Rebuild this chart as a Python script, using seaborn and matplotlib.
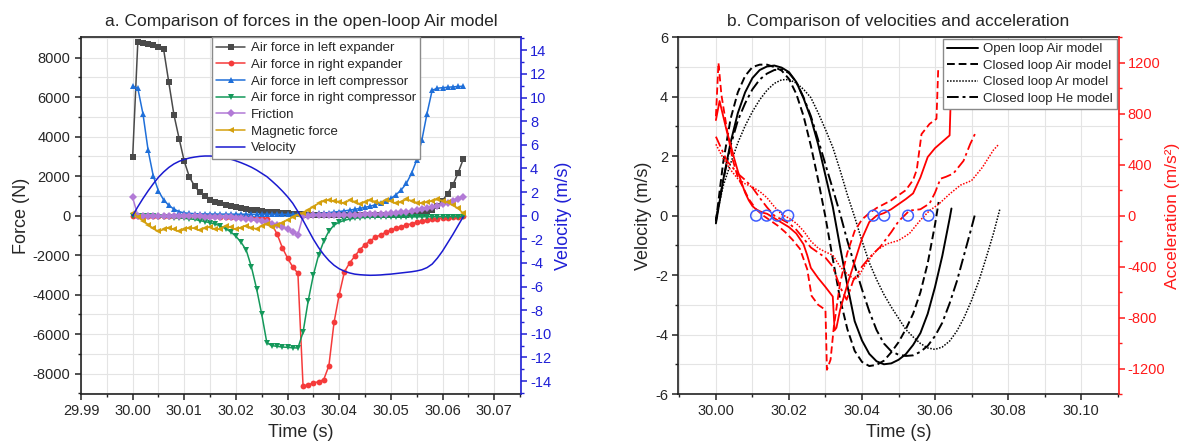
import numpy as np
import pandas as pd
import seaborn as sns
import matplotlib.pyplot as plt
from matplotlib.ticker import MultipleLocator, FormatStrFormatter

# ---------------- panel a: forces, open-loop Air model (1 ms samples from 30.000 s)
time_a = np.round(30.0 + 0.001 * np.arange(65), 3)

left_expander = [2950, 8780, 8740, 8680, 8620, 8540, 8420, 6750, 5100, 3900,
                 2750, 1950, 1500, 1180, 970, 810, 700, 620, 560, 500,
                 440, 390, 340, 300, 265, 235, 205, 180, 160, 140,
                 120, 100, 80, 60, 45, 35, 28, 22, 20, 18,
                 16, 15, 14, 14, 14, 15, 16, 18, 20, 23,
                 27, 32, 40, 50, 65, 90, 130, 200, 300, 480,
                 760, 1120, 1550, 2150, 2850]
right_expander = [0, -5, -8, -10, -12, -14, -16, -18, -20, -22,
                  -24, -26, -28, -30, -33, -36, -40, -45, -50, -55,
                  -62, -70, -80, -95, -100, -110, -170, -450, -950, -1630,
                  -2150, -2600, -2920, -8640, -8560, -8480, -8400, -8300, -7600, -5400,
                  -4000, -2850, -2400, -2060, -1720, -1470, -1270, -1100, -970, -850,
                  -740, -640, -560, -475, -410, -340, -290, -240, -190, -150,
                  -120, -100, -80, -60, -40]
left_compressor = [6550, 6450, 5150, 3300, 2000, 1250, 800, 520, 330, 200,
                   140, 115, 100, 92, 86, 82, 80, 78, 76, 75,
                   74, 73, 72, 71, 70, 69, 68, 67, 66, 65,
                   64, 64, 65, 67, 75, 90, 110, 130, 155, 180,
                   210, 240, 280, 320, 370, 420, 480, 550, 630, 730,
                   870, 1060, 1300, 1630, 2140, 2810, 3820, 5170, 6350, 6450,
                   6480, 6500, 6520, 6540, 6550]
right_compressor = [0, -10, -20, -30, -40, -55, -70, -85, -100, -115,
                    -135, -160, -190, -250, -300, -360, -430, -520, -660, -820,
                    -1050, -1350, -1750, -2600, -3700, -5000, -6450, -6580, -6620, -6650,
                    -6670, -6690, -6700, -5900, -4300, -3000, -2000, -1300, -780, -480,
                    -330, -240, -170, -130, -105, -90, -82, -78, -75, -72,
                    -70, -68, -66, -64, -62, -60, -58, -56, -55, -54,
                    -53, -52, -51, -50, -50]
friction = [920, 0, -2, -5, -8, -10, -13, -16, -19, -22,
            -26, -30, -35, -40, -46, -53, -60, -70, -80, -92,
            -105, -125, -150, -180, -220, -270, -330, -400, -480, -570,
            -680, -810, -960, 0, 4, 8, 12, 16, 20, 25,
            30, 35, 40, 46, 52, 60, 68, 77, 88, 100,
            115, 135, 160, 190, 230, 275, 320, 370, 430, 500,
            575, 655, 740, 840, 940]
magnetic = [150, -50, -250, -450, -650, -800, -700, -600, -700, -800,
            -700, -600, -650, -750, -620, -580, -700, -680, -520, -580,
            -700, -600, -500, -620, -660, -530, -430, -560, -470, -350,
            -220, -80, 30, 120, 290, 450, 620, 740, 790, 740,
            710, 620, 790, 710, 590, 690, 790, 710, 660, 790,
            740, 620, 690, 825, 760, 660, 620, 690, 740, 825,
            760, 670, 540, 370, 120]
velocity_a = [0, 0.75, 1.45, 2.1, 2.7, 3.25, 3.7, 4.08, 4.38, 4.6,
              4.76, 4.88, 4.96, 5.02, 5.05, 5.05, 5.02, 4.96, 4.88, 4.78,
              4.64, 4.48, 4.3, 4.1, 3.86, 3.58, 3.3, 2.92, 2.52, 2.08,
              1.6, 1.05, 0.35, -0.4, -1.2, -2.0, -2.7, -3.3, -3.8, -4.2,
              -4.5, -4.7, -4.85, -4.95, -5.0, -5.03, -5.05, -5.04, -5.02, -4.98,
              -4.95, -4.9, -4.85, -4.8, -4.75, -4.68, -4.58, -4.4, -4.1, -3.6,
              -3.0, -2.3, -1.6, -0.85, -0.1]

force_names = ['Air force in left expander', 'Air force in right expander',
               'Air force in left compressor', 'Air force in right compressor',
               'Friction', 'Magnetic force']

df_a = pd.DataFrame({'time': time_a,
                     force_names[0]: left_expander,
                     force_names[1]: right_expander,
                     force_names[2]: left_compressor,
                     force_names[3]: right_compressor,
                     force_names[4]: friction,
                     force_names[5]: magnetic,
                     'Velocity': velocity_a})

# ---------------- panel b: velocities (2 ms samples) and accelerations, offsets in ms
ms_open = [0, 2, 4, 6, 8, 10, 12, 14, 16, 18, 20, 22, 24, 26, 28, 30, 32, 34, 36, 38,
           40, 42, 44, 46, 48, 50, 52, 54, 56, 58, 60, 62, 64, 64.5]
v_open = [-0.26, 1.2, 2.45, 3.45, 4.15, 4.63, 4.9, 5.02, 5.05, 4.98, 4.83, 4.5, 3.95,
          3.28, 2.4, 1.35, 0.3, -1.05, -2.35, -3.55, -4.2, -4.65, -4.9, -5.0, -4.97,
          -4.85, -4.66, -4.35, -3.95, -3.3, -2.4, -1.35, -0.1, 0.24]
ms_air = [0, 2, 4, 6, 8, 10, 12, 14, 16, 18, 20, 22, 24, 26, 28, 30, 32, 34, 36, 38,
          40, 42, 44, 46, 48, 50, 52, 54, 56, 58, 60, 61]
v_air = [-0.2, 1.8, 3.25, 4.15, 4.7, 5.0, 5.08, 5.08, 5.0, 4.88, 4.6, 4.1, 3.35, 2.35,
         1.2, -0.05, -1.45, -2.8, -3.82, -4.55, -4.92, -5.06, -5.02, -4.88, -4.6, -4.26,
         -3.82, -3.3, -2.58, -1.6, -0.3, 0.46]
ms_ar = [0, 2, 4, 6, 8, 10, 12, 14, 16, 18, 20, 22, 24, 26, 28, 30, 32, 34, 36, 38,
         40, 42, 44, 46, 48, 50, 52, 54, 56, 58, 60, 62, 64, 66, 68, 70, 72, 74, 76, 77.8]
v_ar = [-0.1, 1.0, 1.75, 2.45, 3.02, 3.5, 3.9, 4.22, 4.45, 4.57, 4.58, 4.46, 4.25, 3.97,
        3.46, 2.9, 2.3, 1.53, 0.7, -0.05, -0.85, -1.58, -2.15, -2.65, -3.07, -3.45,
        -3.83, -4.08, -4.3, -4.45, -4.5, -4.42, -4.22, -3.88, -3.42, -2.85, -2.2,
        -1.42, -0.6, 0.24]
ms_he = [0, 2, 4, 6, 8, 10, 12, 14, 16, 18, 20, 22, 24, 26, 28, 30, 32, 34, 36, 38,
         40, 42, 44, 46, 48, 50, 52, 54, 56, 58, 60, 62, 64, 66, 68, 70, 71]
v_he = [-0.15, 1.2, 2.35, 3.2, 3.78, 4.25, 4.58, 4.78, 4.9, 4.92, 4.8, 4.5, 3.98, 3.35,
        2.55, 1.72, 0.9, 0.07, -0.85, -1.68, -2.48, -3.22, -3.85, -4.3, -4.56, -4.68,
        -4.72, -4.7, -4.58, -4.38, -4.05, -3.6, -2.95, -2.2, -1.3, -0.4, 0.07]

ms_acc_open = [0, 1, 2, 3, 4, 5, 6, 7, 8, 9, 10, 11, 12, 13, 14, 16, 18, 20, 22, 24,
               25, 26, 28, 30, 32, 32.5, 33, 34, 36, 38, 40, 42, 44, 46, 48, 50, 52,
               54, 56, 57, 58, 60, 62, 64, 64.5]
acc_open = [750, 900, 780, 660, 560, 450, 350, 260, 180, 120, 75, 50, 35, 22, 15, -20,
            -55, -90, -140, -225, -310, -410, -490, -560, -635, -900, -880, -740, -540,
            -360, -180, -50, 0, 20, 50, 90, 130, 175, 300, 380, 460, 530, 580, 630, 1100]
ms_acc_air = [0, 0.7, 1.5, 3, 4.5, 6, 7.5, 9, 11, 13, 15, 17, 19, 21, 23, 25, 26.2, 28,
              30, 30.4, 31.4, 32.3, 34, 36, 38, 40, 42, 44, 46, 48, 50, 52, 54, 55, 56.3,
              58.5, 60.4, 60.9]
acc_air = [780, 1200, 950, 680, 450, 300, 220, 130, 50, 0, -40, -80, -130, -190, -260,
           -420, -630, -700, -740, -1210, -1130, -870, -530, -290, -120, -30, 20, 60,
           90, 120, 160, 200, 280, 360, 640, 720, 760, 1170]
ms_acc_ar = [0, 2, 4, 6, 8, 10, 12, 14, 16, 18, 20, 22, 24, 26, 28, 30, 32, 34, 36, 38,
             39, 41, 44, 47, 50, 53, 56, 58.5, 61, 64, 67, 70, 73, 76, 77.3]
acc_ar = [560, 450, 360, 290, 250, 225, 190, 140, 70, 10, -20, -60, -120, -200, -255,
          -285, -310, -400, -460, -500, -480, -380, -270, -220, -195, -140, -35, 40, 90,
          170, 240, 275, 380, 515, 555]
ms_acc_he = [0, 3, 6, 8, 10, 12, 14, 16, 18, 20, 22, 24, 26, 28, 30, 32, 34, 35.8, 37.6,
             40, 42, 45, 48, 50, 53, 56, 58.5, 60, 61.5, 63, 65, 67.8, 69.6, 71]
acc_he = [620, 430, 330, 280, 220, 140, 65, 0, -30, -60, -110, -180, -250, -290, -330,
          -400, -560, -660, -510, -400, -330, -245, -130, -45, 40, 50, 95, 180, 290, 305,
          330, 430, 560, 645]

ms_zero = [11.0, 13.9, 16.8, 19.8, 43.1, 46.1, 52.6, 58.2]

model_names = ['Open loop Air model', 'Closed loop Air model',
               'Closed loop Ar model', 'Closed loop He model']


def to_time(ms):
    return 30.0 + np.asarray(ms) / 1000.0


sns.set_style('white')
plt.rcParams['font.family'] = ['Liberation Sans', 'DejaVu Sans']
plt.rcParams['axes.unicode_minus'] = False

BLUE_AX = '#1f1fd6'
RED_AX = '#ff1a1a'

fig = plt.figure(figsize=(11.82, 4.47), dpi=100)
ax = fig.add_axes([81 / 1182, 1 - 394 / 447, 440 / 1182, 356.7 / 447])
ax2 = ax.twinx()
ax3 = fig.add_axes([678.3 / 1182, 1 - 394 / 447, 440.4 / 1182, 356.7 / 447])
ax4 = ax3.twinx()

# forces
styles = [('#4a4a4a', 's', 4.0), ('#f53b3b', 'o', 4.2), ('#1f6fd9', '^', 4.6),
          ('#14985a', 'v', 4.6), ('#b27ad6', 'D', 3.6), ('#d4a00e', '<', 4.6)]
for name, (col, mk, ms) in zip(force_names, styles):
    sns.lineplot(data=df_a, x='time', y=name, ax=ax, color=col, marker=mk,
                 markersize=ms, markeredgewidth=0, linewidth=1.1, label=name,
                 estimator=None, sort=False, legend=False)
sns.lineplot(data=df_a, x='time', y='Velocity', ax=ax2, color='#1a1ad0',
             linewidth=1.1, label='Velocity', estimator=None, sort=False, legend=False)

ax.set_xlim(29.99, 30.0752)
ax.set_ylim(-9030, 9030)
ax2.set_ylim(-15.1, 15.1)
ax.xaxis.set_major_locator(MultipleLocator(0.01))
ax.xaxis.set_minor_locator(MultipleLocator(0.005))
ax.xaxis.set_major_formatter(FormatStrFormatter('%.2f'))
ax.yaxis.set_major_locator(MultipleLocator(2000))
ax.yaxis.set_minor_locator(MultipleLocator(1000))
ax2.yaxis.set_major_locator(MultipleLocator(2))
ax2.yaxis.set_minor_locator(MultipleLocator(1))
ax.grid(which='both', color='#e4e4e4', linewidth=0.8)
ax.set_axisbelow(True)
ax.set_xlabel('Time (s)', fontsize=13)
ax.set_ylabel('Force (N)', fontsize=13, labelpad=2)
ax2.set_ylabel('Velocity (m/s)', fontsize=13, color=BLUE_AX, labelpad=3)
ax.set_title('a. Comparison of forces in the open-loop Air model', fontsize=12.5, pad=8)

# velocities and accelerations
line_ls = ['-', (0, (4, 2)), (0, (1, 1)), (0, (6, 2, 1.5, 2))]
vel_sets = [(ms_open, v_open), (ms_air, v_air), (ms_ar, v_ar), (ms_he, v_he)]
acc_sets = [(ms_acc_open, acc_open), (ms_acc_air, acc_air),
            (ms_acc_ar, acc_ar), (ms_acc_he, acc_he)]
for name, (ms, v), ls in zip(model_names, vel_sets, line_ls):
    sns.lineplot(x=to_time(ms), y=v, ax=ax3, color='black', linestyle=ls,
                 linewidth=1.4 if ls != (0, (1, 1)) else 1.1, label=name,
                 estimator=None, sort=False, legend=False)
for (ms, a), ls in zip(acc_sets, line_ls):
    sns.lineplot(x=to_time(ms), y=a, ax=ax4, color='#ff0000', linestyle=ls,
                 linewidth=1.3 if ls != (0, (1, 1)) else 1.1,
                 estimator=None, sort=False, legend=False)
sns.scatterplot(x=to_time(ms_zero), y=np.zeros(len(ms_zero)), ax=ax4, s=60,
                facecolor='none', edgecolor='#3d5cff', linewidth=1.1, zorder=5,
                legend=False)

ax3.set_xlim(29.9897, 30.1103)
ax3.set_ylim(-6, 6)
ax4.set_ylim(-1400, 1400)
ax3.xaxis.set_major_locator(MultipleLocator(0.02))
ax3.xaxis.set_minor_locator(MultipleLocator(0.01))
ax3.xaxis.set_major_formatter(FormatStrFormatter('%.2f'))
ax3.yaxis.set_major_locator(MultipleLocator(2))
ax3.yaxis.set_minor_locator(MultipleLocator(1))
ax4.yaxis.set_major_locator(MultipleLocator(400))
ax4.yaxis.set_minor_locator(MultipleLocator(200))
ax3.grid(which='both', color='#e4e4e4', linewidth=0.8)
ax3.set_axisbelow(True)
ax3.set_xlabel('Time (s)', fontsize=13)
ax3.set_ylabel('Velocity (m/s)', fontsize=13, labelpad=2)
ax4.set_ylabel('Acceleration (m/s²)', fontsize=12.5, color=RED_AX, labelpad=0)
ax3.set_title('b. Comparison of velocities and acceleration', fontsize=12.5, pad=8)

# Origin-like frame and ticks
for a_main, a_twin, tcol in [(ax, ax2, BLUE_AX), (ax3, ax4, RED_AX)]:
    for sp in ['left', 'bottom', 'top']:
        a_main.spines[sp].set_color('#222222')
        a_main.spines[sp].set_linewidth(1.2)
        a_twin.spines[sp].set_visible(False)
    a_main.spines['right'].set_visible(False)
    a_twin.spines['right'].set_color(tcol)
    a_twin.spines['right'].set_linewidth(1.2)
    a_main.tick_params(which='major', direction='out', length=4, width=1.1,
                       labelsize=10.5, color='#222222', bottom=True, left=True)
    a_main.tick_params(which='minor', direction='out', length=2.5, width=1,
                       color='#222222', bottom=True, left=True)
    a_twin.tick_params(which='major', direction='out', length=4, width=1.1,
                       labelsize=10.5, color=tcol, labelcolor=tcol, right=True,
                       pad=2.5)
    a_twin.tick_params(which='minor', direction='out', length=2.5, width=1,
                       color=tcol, right=True)

# legends
h1, l1 = ax.get_legend_handles_labels()
h2, l2 = ax2.get_legend_handles_labels()
leg = ax2.legend(h1 + h2, l1 + l2, loc='upper left', bbox_to_anchor=(0.297, 1.0),
                 borderaxespad=0, fontsize=9.5, labelspacing=0.34, handlelength=2.2,
                 handletextpad=0.4, borderpad=0.35, fancybox=False, framealpha=1,
                 edgecolor='#8a8a8a')
leg.get_frame().set_linewidth(1.0)

h3, l3 = ax3.get_legend_handles_labels()
leg2 = ax4.legend(h3, l3, loc='upper right', bbox_to_anchor=(1.0, 1.0),
                  borderaxespad=0.15, fontsize=9.5, labelspacing=0.32, handlelength=2.3,
                  handletextpad=0.4, borderpad=0.3, fancybox=False, framealpha=1,
                  edgecolor='#8a8a8a')
leg2.get_frame().set_linewidth(1.0)

fig.savefig('out.png', dpi=100)
